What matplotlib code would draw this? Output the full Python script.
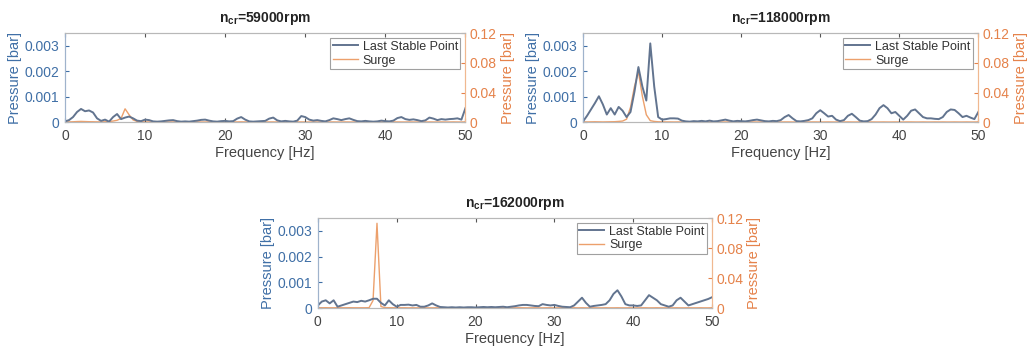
import numpy as np
import matplotlib
matplotlib.use("Agg")
import matplotlib.pyplot as plt

plt.rcParams['font.family'] = ['Liberation Sans', 'DejaVu Sans']
plt.rcParams['mathtext.default'] = 'regular'

# frequency axis [Hz], 0.5 Hz steps
freq = np.linspace(0, 50, 101)

# Last Stable Point, left axis, in 1e-4 bar
lsp_59k = np.array([
    0.3, 0.8, 2.0, 4.0, 5.2, 4.3, 4.6, 3.8, 1.5, 0.5,
    1.0, 0.2, 2.0, 3.2, 1.2, 1.8, 2.2, 1.5, 0.6, 0.4,
    1.0, 0.8, 0.3, 0.2, 0.3, 0.5, 0.7, 0.8, 0.4, 0.2,
    0.3, 0.2, 0.4, 0.6, 0.9, 1.0, 0.6, 0.3, 0.2, 0.4,
    0.5, 0.3, 0.4, 1.4, 2.0, 1.0, 0.3, 0.2, 0.3, 0.4,
    0.5, 1.4, 1.8, 0.7, 0.3, 0.5, 0.3, 0.2, 0.6, 2.4,
    2.0, 1.0, 0.6, 0.8, 0.5, 0.3, 0.8, 1.5, 1.2, 0.8,
    1.2, 1.5, 0.9, 0.4, 0.3, 0.5, 0.3, 0.2, 0.3, 0.6,
    0.4, 0.3, 0.6, 1.6, 2.0, 1.2, 0.9, 1.1, 0.8, 0.4,
    0.7, 1.8, 1.4, 0.8, 1.2, 1.0, 1.2, 1.3, 1.5, 1.0,
    5.5])
lsp_118k = np.array([
    0.3, 2.5, 5.0, 7.5, 10.2, 7.0, 3.0, 5.5, 3.0, 6.0,
    4.5, 2.0, 4.0, 12.0, 21.7, 14.0, 8.5, 31.0, 14.0, 2.0,
    1.0, 1.2, 1.5, 1.5, 1.4, 0.6, 0.3, 0.2, 0.4, 0.3,
    0.5, 0.3, 0.6, 0.3, 0.4, 0.7, 1.0, 0.6, 0.3, 0.5,
    0.4, 0.3, 0.5, 0.8, 1.0, 0.7, 0.4, 0.3, 0.5, 0.4,
    0.8, 2.0, 2.8, 1.5, 0.4, 0.3, 0.5, 0.8, 1.5, 3.5,
    4.7, 3.5, 2.2, 2.5, 1.0, 0.4, 0.8, 2.5, 3.3, 2.0,
    0.6, 0.3, 0.4, 1.2, 3.0, 5.5, 6.7, 5.5, 3.5, 4.0,
    2.5, 1.0, 2.5, 4.5, 5.0, 3.5, 2.0, 1.5, 1.5, 1.3,
    1.2, 2.0, 4.0, 5.0, 4.8, 3.5, 2.0, 2.5, 1.8, 1.2,
    4.0])
lsp_162k = np.array([
    1.0, 2.5, 3.0, 1.8, 3.0, 0.5, 1.0, 1.5, 2.0, 2.5,
    2.3, 2.8, 2.5, 3.0, 3.6, 3.6, 2.0, 1.0, 3.0, 1.5,
    0.5, 1.2, 1.2, 1.3, 1.0, 1.2, 0.5, 0.5, 1.0, 1.8,
    1.0, 0.4, 0.3, 0.2, 0.3, 0.2, 0.3, 0.2, 0.3, 0.3,
    0.2, 0.3, 0.4, 0.3, 0.4, 0.3, 0.4, 0.5, 0.3, 0.5,
    0.7, 1.0, 1.2, 1.2, 1.0, 0.8, 0.7, 1.5, 1.2, 1.0,
    1.2, 0.8, 0.5, 0.4, 0.3, 1.0, 2.5, 4.0, 2.0, 0.5,
    0.8, 1.0, 1.2, 1.5, 3.0, 5.5, 6.9, 4.5, 1.5, 1.0,
    1.0, 0.8, 1.0, 3.0, 5.0, 4.0, 3.0, 1.5, 1.0, 0.5,
    1.0, 3.0, 4.0, 2.5, 1.0, 1.5, 2.0, 2.5, 3.0, 3.5,
    4.2])

# Surge, right axis, in 1e-3 bar
surge_59k = np.array([
    0.2, 0.3, 0.5, 0.8, 1.0, 0.8, 0.6, 0.5, 0.4, 0.3,
    0.5, 0.8, 1.5, 2.5, 5.0, 18.0, 10.0, 3.0, 1.0, 0.5,
    0.4, 0.3, 0.3, 0.2, 0.3, 0.2, 0.2, 0.3, 0.2, 0.2,
    0.3, 0.2, 0.2, 0.3, 0.2, 0.2, 0.3, 0.2, 0.2, 0.2,
    0.3, 0.2, 0.2, 0.3, 0.4, 0.3, 0.2, 0.2, 0.3, 0.2,
    0.2, 0.3, 0.3, 0.2, 0.2, 0.3, 0.2, 0.2, 0.3, 0.3,
    0.2, 0.2, 0.3, 0.2, 0.2, 0.3, 0.2, 0.3, 0.2, 0.2,
    0.3, 0.2, 0.2, 0.3, 0.2, 0.2, 0.3, 0.2, 0.2, 0.3,
    0.2, 0.2, 0.3, 0.3, 0.2, 0.2, 0.3, 0.2, 0.2, 0.3,
    0.2, 0.3, 0.2, 0.2, 0.3, 0.2, 0.2, 0.3, 0.2, 0.2,
    0.3])
surge_118k = np.array([
    0.3, 0.3, 0.4, 0.5, 0.4, 0.3, 0.4, 0.5, 0.6, 1.0,
    1.5, 4.0, 20.0, 48.0, 68.0, 35.0, 10.0, 2.0, 1.0, 0.5,
    0.4, 0.3, 0.3, 0.2, 0.3, 0.2, 0.2, 0.3, 0.2, 0.2,
    0.3, 0.2, 0.2, 0.3, 0.2, 0.2, 0.3, 0.2, 0.2, 0.2,
    0.3, 0.2, 0.2, 0.3, 0.2, 0.3, 0.2, 0.2, 0.3, 0.2,
    0.2, 0.3, 0.3, 0.2, 0.2, 0.3, 0.2, 0.2, 0.3, 0.3,
    0.2, 0.2, 0.3, 0.2, 0.2, 0.3, 0.2, 0.3, 0.2, 0.2,
    0.3, 0.2, 0.2, 0.3, 0.2, 0.2, 0.3, 0.2, 0.2, 0.3,
    0.2, 0.2, 0.3, 0.3, 0.2, 0.2, 0.3, 0.2, 0.2, 0.3,
    0.2, 0.3, 0.2, 0.2, 0.3, 0.2, 0.2, 0.3, 0.2, 0.2,
    0.3])
surge_162k = np.array([
    0.3, 0.3, 0.4, 0.3, 0.3, 0.4, 0.3, 0.3, 0.4, 0.3,
    0.3, 0.3, 0.3, 0.5, 10.0, 113.0, 2.0, 0.5, 0.4, 0.3,
    0.3, 0.3, 0.3, 0.2, 0.3, 0.2, 0.2, 0.3, 0.2, 0.2,
    0.3, 0.2, 0.2, 0.3, 0.2, 0.2, 0.3, 0.2, 0.2, 0.2,
    0.3, 0.2, 0.2, 0.3, 0.2, 0.3, 0.2, 0.2, 0.3, 0.2,
    0.2, 0.3, 0.3, 0.2, 0.2, 0.3, 0.2, 0.2, 0.3, 0.3,
    0.2, 0.2, 0.3, 0.2, 0.2, 0.3, 0.2, 0.3, 0.2, 0.2,
    0.3, 0.2, 0.2, 0.3, 0.2, 0.2, 0.3, 0.2, 0.2, 0.3,
    0.2, 0.2, 0.3, 0.3, 0.2, 0.2, 0.3, 0.2, 0.2, 0.3,
    0.2, 0.3, 0.2, 0.2, 0.3, 0.2, 0.2, 0.3, 0.2, 0.2,
    0.3])

speeds = ['59000', '118000', '162000']
lsp_all = [lsp_59k, lsp_118k, lsp_162k]
surge_all = [surge_59k, surge_118k, surge_162k]

blue_txt = '#3f6fa6'
orange_txt = '#e5824a'
blue_line = '#62748f'
orange_line = '#eca06c'
frame = '#b8b8b8'

# axes boxes in figure fractions [left, bottom, width, height]
boxes = [[0.063, 0.651, 0.388, 0.254],
         [0.565, 0.651, 0.383, 0.254],
         [0.308, 0.120, 0.382, 0.257]]

fig = plt.figure(figsize=(10.32, 3.5), dpi=100)

for box, spd, lsp, surge in zip(boxes, speeds, lsp_all, surge_all):
    ax1 = fig.add_axes(box)
    ax2 = ax1.twinx()
    l1, = ax1.plot(freq, lsp * 1e-4, color=blue_line, lw=1.4, label='Last Stable Point')
    l2, = ax2.plot(freq, surge * 1e-3, color=orange_line, lw=1.0, label='Surge')
    ax1.set_zorder(ax2.get_zorder() + 1)
    ax1.patch.set_visible(False)

    ax1.set_xlim(0, 50)
    ax1.set_ylim(0, 0.0035)
    ax2.set_ylim(0, 0.12)
    ax1.set_xticks([0, 10, 20, 30, 40, 50])
    ax1.set_yticks([0, 0.001, 0.002, 0.003])
    ax1.set_yticklabels(['0', '0.001', '0.002', '0.003'])
    ax2.set_yticks([0, 0.04, 0.08, 0.12])
    ax2.set_yticklabels(['0', '0.04', '0.08', '0.12'])

    ax1.tick_params(axis='x', direction='in', top=True, length=3, labelsize=10,
                    colors='#555555', labelcolor='#444444', pad=5)
    ax1.tick_params(axis='y', direction='in', length=3, labelsize=10,
                    colors=blue_txt, labelcolor=blue_txt, pad=4)
    ax2.tick_params(axis='y', direction='in', length=3, labelsize=10,
                    colors=orange_txt, labelcolor=orange_txt, pad=3)

    for ax in (ax1, ax2):
        ax.spines['top'].set_color(frame)
        ax.spines['bottom'].set_color(frame)
        ax.spines['left'].set_color('#9fb3cc')
        ax.spines['right'].set_color('#f0b890')
        for s in ax.spines.values():
            s.set_linewidth(0.8)

    ax1.set_ylabel('Pressure [bar]', color=blue_txt, fontsize=10.5, labelpad=2)
    ax2.set_ylabel('Pressure [bar]', color=orange_txt, fontsize=10.5, labelpad=3)
    ax1.set_xlabel('Frequency [Hz]', color='#444444', fontsize=10.5, labelpad=2)
    ax1.set_title('n$_{cr}$=' + spd + 'rpm', fontsize=10, fontweight='bold',
                  color='#222222', pad=8)

    leg = ax1.legend(handles=[l1, l2], loc='upper right', fontsize=9,
                     frameon=True, fancybox=False, borderpad=0.2,
                     handlelength=2.0, handletextpad=0.4, labelspacing=0.15,
                     borderaxespad=0.4)
    leg.get_frame().set_edgecolor('#888888')
    leg.get_frame().set_linewidth(0.8)
    for t in leg.get_texts():
        t.set_color('#333333')

fig.savefig('out.png', dpi=100)
